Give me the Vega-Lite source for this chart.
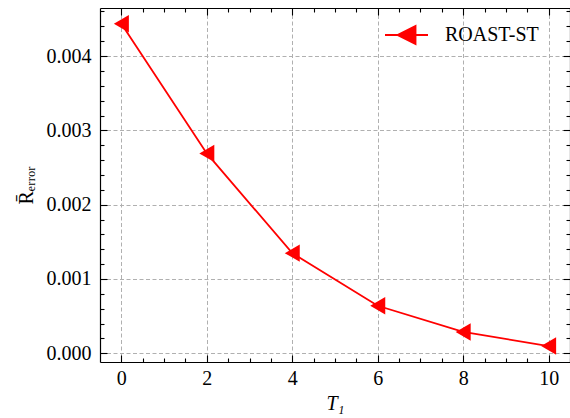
{
  "$schema": "https://vega.github.io/schema/vega-lite/v6.json",
  "width": 470,
  "height": 354,
  "autosize": "none",
  "padding": {"left": 100, "top": 8, "right": 0, "bottom": 56},
  "background": "white",
  "config": {
    "view": {"stroke": null},
    "axis": {
      "labelFont": "Liberation Serif",
      "labelFontSize": 20,
      "labelColor": "black",
      "titleFont": "Liberation Serif",
      "titleFontSize": 20,
      "titleColor": "black",
      "titleFontWeight": "normal",
      "tickColor": "black",
      "domainColor": "black",
      "domainWidth": 1.2,
      "tickWidth": 1.1
    }
  },
  "data": {
    "values": [
      {"T1": 0, "R": 0.004435, "series": "ROAST-ST"},
      {"T1": 2, "R": 0.00269, "series": "ROAST-ST"},
      {"T1": 4, "R": 0.001348, "series": "ROAST-ST"},
      {"T1": 6, "R": 0.00064, "series": "ROAST-ST"},
      {"T1": 8, "R": 0.000287, "series": "ROAST-ST"},
      {"T1": 10, "R": 0.000098, "series": "ROAST-ST"}
    ]
  },
  "layer": [
    {
      "mark": {"type": "line", "strokeWidth": 1.8, "point": {"shape": "triangle-left", "size": 300, "filled": true, "opacity": 1}},
      "encoding": {
        "x": {
          "field": "T1", "type": "quantitative",
          "scale": {"domain": [-0.5, 10.5], "nice": false, "zero": false},
          "axis": {
            "orient": "bottom", "title": "T₁", "titleFontStyle": "italic",
            "labelFont": "Liberation Serif", "labelFontSize": 20, "titleFont": "Liberation Serif",
            "values": [0, 2, 4, 6, 8, 10], "tickSize": -7, "labelPadding": 13,
            "grid": true, "gridColor": "#b0b0b0", "gridDash": [4, 2.5], "gridWidth": 1,
            "titlePadding": 5, "labelFlush": false
          }
        },
        "y": {
          "field": "R", "type": "quantitative",
          "scale": {"domain": [-0.000117, 0.004647], "nice": false, "zero": false},
          "axis": {
            "orient": "left", "title": "R̄ₑᵣᵣₒᵣ", "format": ".3f",
            "labelFont": "Liberation Serif", "labelFontSize": 20, "titleFont": "Liberation Serif",
            "values": [0, 0.001, 0.002, 0.003, 0.004], "tickSize": -7, "labelPadding": 16,
            "grid": true, "gridColor": "#b0b0b0", "gridDash": [4, 2.5], "gridWidth": 1,
            "titlePadding": 10, "labelFlush": false
          }
        },
        "color": {
          "field": "series", "type": "nominal",
          "scale": {"range": ["#ff0000"]},
          "legend": {
            "title": null, "orient": "none", "legendX": 284, "legendY": 4.5,
            "padding": 0,
            "symbolType": "M-1,0L1,0M-0.42,0L0.42,-0.42L0.42,0.42Z",
            "symbolSize": 1849,
            "symbolStrokeWidth": 1.8,
            "labelFont": "Liberation Serif", "labelFontSize": 20, "labelColor": "black",
            "labelOffset": 16,
            "encode": {"symbols": {"update": {"fill": {"value": "#ff0000"}, "stroke": {"value": "#ff0000"}, "opacity": {"value": 1}, "strokeWidth": {"value": 1.8}}}}
          }
        }
      }
    },
    {
      "mark": {"type": "point", "opacity": 0},
      "encoding": {
        "x": {
          "field": "T1", "type": "quantitative",
          "scale": {"domain": [-0.5, 10.5], "nice": false, "zero": false},
          "axis": {"orient": "bottom", "title": null, "labels": false, "domain": false, "grid": false,
                   "values": [0.5, 1, 1.5, 2.5, 3, 3.5, 4.5, 5, 5.5, 6.5, 7, 7.5, 8.5, 9, 9.5, 10.5], "tickSize": -4}
        },
        "y": {
          "field": "R", "type": "quantitative",
          "scale": {"domain": [-0.000117, 0.004647], "nice": false, "zero": false},
          "axis": {"orient": "left", "title": null, "labels": false, "domain": false, "grid": false,
                   "values": [0.0002, 0.0004, 0.0006, 0.0008, 0.0012, 0.0014, 0.0016, 0.0018, 0.0022, 0.0024, 0.0026, 0.0028, 0.0032, 0.0034, 0.0036, 0.0038, 0.0042, 0.0044, 0.0046], "tickSize": -4}
        }
      }
    },
    {
      "mark": {"type": "point", "opacity": 0},
      "encoding": {
        "x": {
          "field": "T1", "type": "quantitative",
          "scale": {"domain": [-0.5, 10.5], "nice": false, "zero": false},
          "axis": {"orient": "top", "title": null, "labels": false, "grid": false,
                   "values": [0, 2, 4, 6, 8, 10], "tickSize": -7}
        },
        "y": {
          "field": "R", "type": "quantitative",
          "scale": {"domain": [-0.000117, 0.004647], "nice": false, "zero": false},
          "axis": {"orient": "right", "title": null, "labels": false, "grid": false,
                   "values": [0, 0.001, 0.002, 0.003, 0.004], "tickSize": -7}
        }
      }
    },
    {
      "mark": {"type": "point", "opacity": 0},
      "encoding": {
        "x": {
          "field": "T1", "type": "quantitative",
          "scale": {"domain": [-0.5, 10.5], "nice": false, "zero": false},
          "axis": {"orient": "top", "title": null, "labels": false, "domain": false, "grid": false,
                   "values": [0.5, 1, 1.5, 2.5, 3, 3.5, 4.5, 5, 5.5, 6.5, 7, 7.5, 8.5, 9, 9.5, 10.5], "tickSize": -4}
        },
        "y": {
          "field": "R", "type": "quantitative",
          "scale": {"domain": [-0.000117, 0.004647], "nice": false, "zero": false},
          "axis": {"orient": "right", "title": null, "labels": false, "domain": false, "grid": false,
                   "values": [0.0002, 0.0004, 0.0006, 0.0008, 0.0012, 0.0014, 0.0016, 0.0018, 0.0022, 0.0024, 0.0026, 0.0028, 0.0032, 0.0034, 0.0036, 0.0038, 0.0042, 0.0044, 0.0046], "tickSize": -4}
        }
      }
    }
  ],
  "resolve": {"axis": {"x": "independent", "y": "independent"}}
}
